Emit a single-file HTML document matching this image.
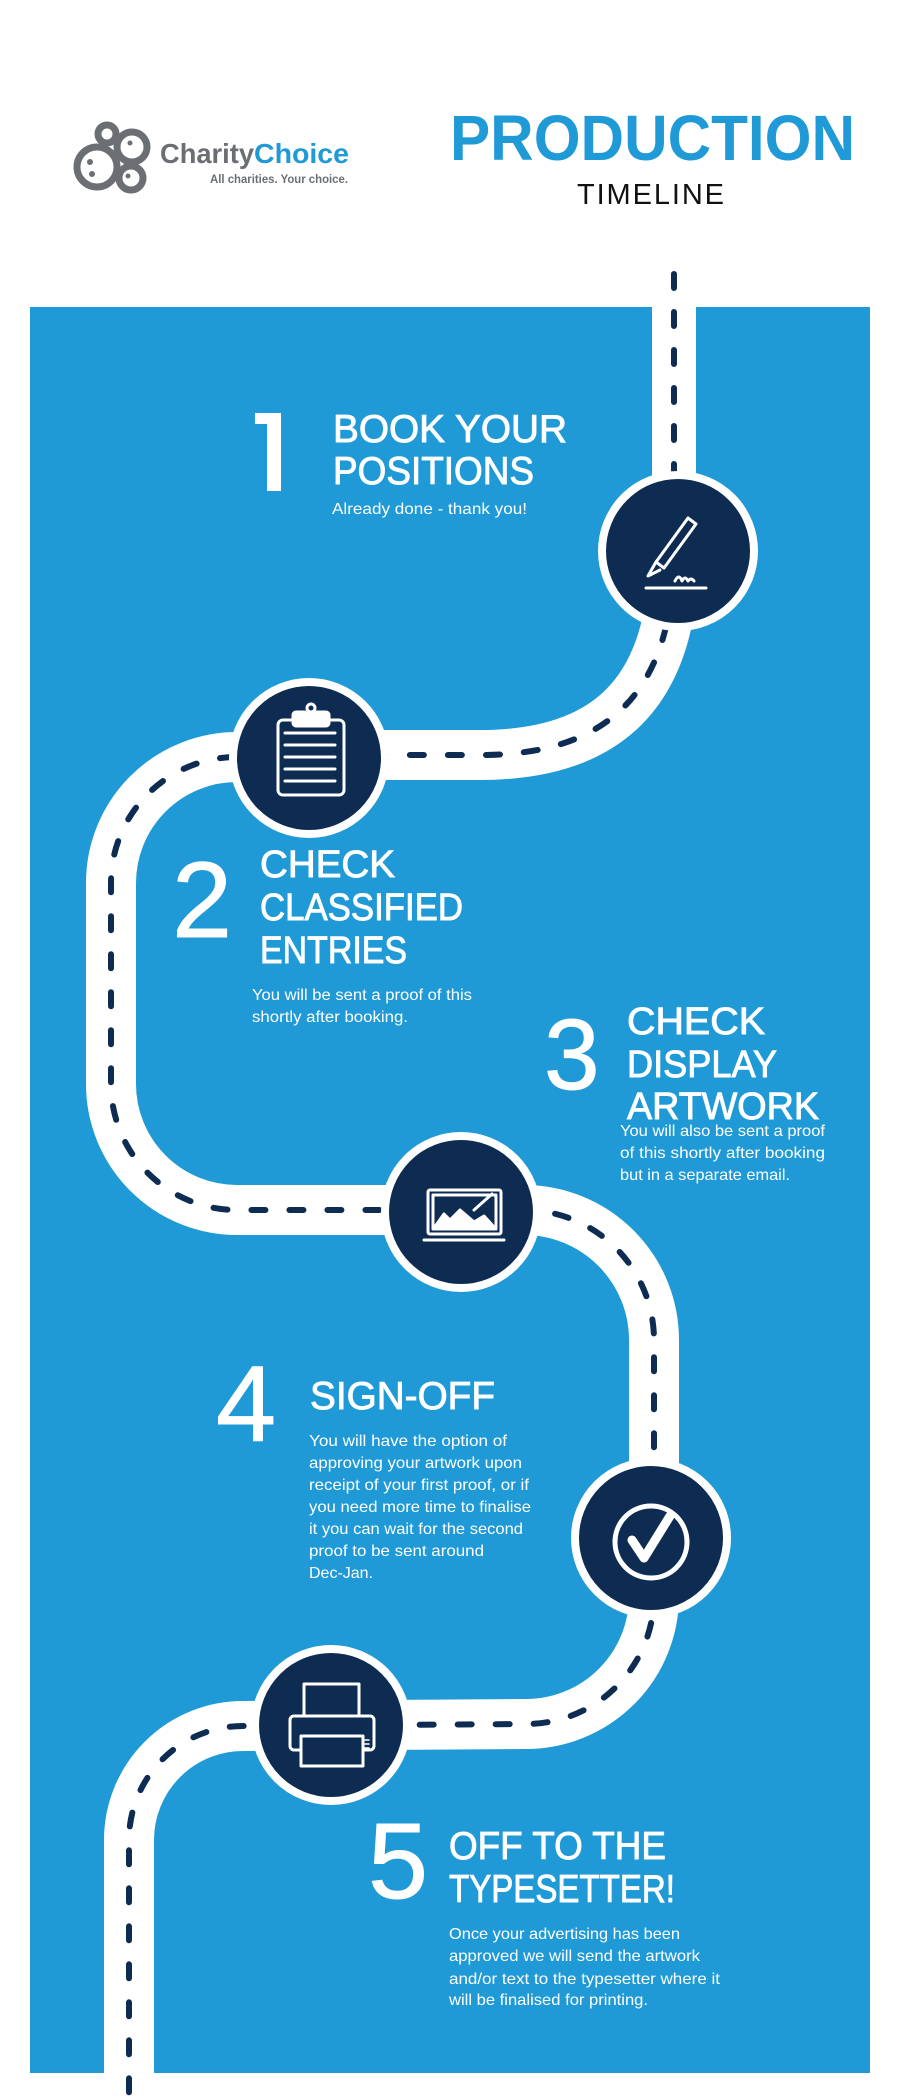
<!DOCTYPE html>
<html><head><meta charset="utf-8"><style>
html,body{margin:0;padding:0;background:#fff;}
svg{display:block;}
text{font-family:"Liberation Sans",sans-serif;}
.h{stroke:#fff;stroke-width:0.9;}
</style></head><body>
<svg width="900" height="2100" viewBox="0 0 900 2100" xmlns="http://www.w3.org/2000/svg">
<rect x="0" y="0" width="900" height="2100" fill="#fff"/>
<g fill="none" stroke="#6b6f74" stroke-width="7">
<circle cx="97" cy="167" r="20" fill="#fff"/>
<circle cx="107" cy="134" r="9" fill="#fff"/>
<circle cx="132" cy="147" r="15" fill="#fff"/>
<circle cx="131" cy="178" r="12" fill="#fff"/>
</g>
<g fill="#6b6f74"><circle cx="90" cy="162" r="3"/><circle cx="92" cy="174" r="3"/><circle cx="130" cy="143" r="2.5"/><circle cx="128" cy="176" r="2.5"/></g>
<text x="160" y="163" font-size="28" font-weight="bold" fill="#6b6f74" textLength="94" lengthAdjust="spacingAndGlyphs">Charity</text>
<text x="254" y="163" font-size="28" font-weight="bold" fill="#1f9ad6" textLength="95" lengthAdjust="spacingAndGlyphs">Choice</text>
<text x="210" y="183" font-size="12" font-weight="bold" fill="#6b6f74" textLength="138" lengthAdjust="spacingAndGlyphs">All charities. Your choice.</text>
<text x="450" y="160" font-size="64" font-weight="bold" fill="#1f9ad6" textLength="405" lengthAdjust="spacingAndGlyphs">PRODUCTION</text>
<text x="577" y="204" font-size="29" fill="#111" textLength="147" lengthAdjust="spacing">TIMELINE</text>

<rect x="30" y="307" width="840" height="1766" fill="#1f9ad6"/>

<g fill="none" stroke="#fff" stroke-linecap="butt">
<path d="M674 268 L674 551" stroke-width="44"/>
<path d="M674 551 C674 700 600 755 480 755 L309 755 L237 757 A126 126 0 0 0 111 883 L111 1084 A126 126 0 0 0 237 1210 L524 1210 A130 130 0 0 1 654 1340 L654 1596 A128 128 0 0 1 526 1724 L243 1726 A114 114 0 0 0 129 1840 L129 2100" stroke-width="50"/>
</g>
<g fill="none" stroke="#0e2c52" stroke-width="6" stroke-linecap="round" stroke-dasharray="14 24">
<path d="M674 274 L674 551"/>
<path d="M674 551 C674 700 600 755 480 755 L309 755 L237 757 A126 126 0 0 0 111 883 L111 1084 A126 126 0 0 0 237 1210 L524 1210 A130 130 0 0 1 654 1340 L654 1596 A128 128 0 0 1 526 1724 L243 1726 A114 114 0 0 0 129 1840 L129 2100"/>
</g>

<g fill="#0e2c52" stroke="#fff" stroke-width="8">
<circle cx="678" cy="551" r="76"/>
<circle cx="309" cy="758" r="76"/>
<circle cx="461" cy="1212" r="76"/>
<circle cx="651" cy="1538" r="76"/>
<circle cx="331" cy="1725" r="76"/>
</g>

<g fill="none" stroke="#fff" stroke-width="3" stroke-linecap="round" stroke-linejoin="round">
<path d="M688 518 l8 6 l-32 44 l-8 -6 z"/>
<path d="M656 562 l-8 14 l12 -6"/>
<path d="M675 581 q4 -8 7 0 q3 -6 6 0 q3 -4 6 0"/>
<path d="M646 588 h60"/>
<rect x="278" y="720" width="66" height="75" rx="5"/>
<rect x="293" y="712" width="36" height="14" rx="3" fill="#fff"/>
<circle cx="311" cy="708" r="4"/>
<path d="M285 733 h50 M285 745 h50 M285 757 h50 M285 769 h50 M285 781 h50"/>
<rect x="428" y="1190" width="73" height="44" rx="2"/>
<rect x="433" y="1195" width="63" height="34"/>
<path d="M424 1240 h80"/>
<path d="M434 1228 l10 -14 l6 6 l10 -10 l14 12 l10 -6 l11 12 z" fill="#fff"/>
<path d="M474 1210 l18 -16"/>
<circle cx="651" cy="1542" r="36" stroke-width="5"/>
<path d="M632 1540 l12 18 l26 -42" stroke-width="9"/>
<rect x="304" y="1684" width="55" height="32"/>
<rect x="290" y="1716" width="84" height="34" rx="4" fill="#0e2c52"/>
<rect x="301" y="1736" width="62" height="30" fill="#0e2c52"/>
<path d="M365 1740 h4 M365 1744 h4 M365 1748 h4" stroke-width="1.5"/>
</g>

<g fill="#fff">
<rect x="267" y="413" width="14" height="78"/>
<rect x="255" y="413" width="14" height="11"/>
<text class="h" x="333" y="442" font-size="39" textLength="234" lengthAdjust="spacingAndGlyphs">BOOK YOUR</text>
<text class="h" x="333" y="484" font-size="39" textLength="201" lengthAdjust="spacingAndGlyphs">POSITIONS</text>
<text x="332" y="514" font-size="16" textLength="195" lengthAdjust="spacingAndGlyphs">Already done - thank you!</text>

<text class="h" x="172" y="937" font-size="108" stroke-width="2">2</text>
<text class="h" x="260" y="877" font-size="38" textLength="135" lengthAdjust="spacingAndGlyphs">CHECK</text>
<text class="h" x="260" y="920" font-size="38" textLength="203" lengthAdjust="spacingAndGlyphs">CLASSIFIED</text>
<text class="h" x="260" y="963" font-size="38" textLength="147" lengthAdjust="spacingAndGlyphs">ENTRIES</text>
<text x="252" y="1000" font-size="15.5" textLength="220" lengthAdjust="spacingAndGlyphs">You will be sent a proof of this</text>
<text x="252" y="1022" font-size="15.5" textLength="156" lengthAdjust="spacingAndGlyphs">shortly after booking.</text>

<text class="h" x="544" y="1089" font-size="100" stroke-width="2">3</text>
<text class="h" x="627" y="1034" font-size="38" textLength="138" lengthAdjust="spacingAndGlyphs">CHECK</text>
<text class="h" x="627" y="1077" font-size="38" textLength="150" lengthAdjust="spacingAndGlyphs">DISPLAY</text>
<text class="h" x="627" y="1119" font-size="38" textLength="192" lengthAdjust="spacingAndGlyphs">ARTWORK</text>
<text x="620" y="1136" font-size="16" textLength="205" lengthAdjust="spacingAndGlyphs">You will also be sent a proof</text>
<text x="620" y="1158" font-size="16" textLength="205" lengthAdjust="spacingAndGlyphs">of this shortly after booking</text>
<text x="620" y="1180" font-size="16" textLength="170" lengthAdjust="spacingAndGlyphs">but in a separate email.</text>

<text class="h" x="216" y="1441" font-size="108" stroke-width="2">4</text>
<text class="h" x="310" y="1409" font-size="39" textLength="185" lengthAdjust="spacingAndGlyphs">SIGN-OFF</text>
<text x="309" y="1446" font-size="16" textLength="198" lengthAdjust="spacingAndGlyphs">You will have the option of</text>
<text x="309" y="1468" font-size="16" textLength="213" lengthAdjust="spacingAndGlyphs">approving your artwork upon</text>
<text x="309" y="1490" font-size="16" textLength="220" lengthAdjust="spacingAndGlyphs">receipt of your first proof, or if</text>
<text x="309" y="1512" font-size="16" textLength="222" lengthAdjust="spacingAndGlyphs">you need more time to finalise</text>
<text x="309" y="1534" font-size="16" textLength="214" lengthAdjust="spacingAndGlyphs">it you can wait for the second</text>
<text x="309" y="1556" font-size="16" textLength="175" lengthAdjust="spacingAndGlyphs">proof to be sent around</text>
<text x="309" y="1578" font-size="16">Dec-Jan.</text>

<text class="h" x="368" y="1898" font-size="108" stroke-width="2">5</text>
<text class="h" x="449" y="1859" font-size="39" textLength="217" lengthAdjust="spacingAndGlyphs">OFF TO THE</text>
<text class="h" x="449" y="1902" font-size="39" textLength="226" lengthAdjust="spacingAndGlyphs">TYPESETTER!</text>
<text x="449" y="1939" font-size="16" textLength="231" lengthAdjust="spacingAndGlyphs">Once your advertising has been</text>
<text x="449" y="1961" font-size="16" textLength="251" lengthAdjust="spacingAndGlyphs">approved we will send the artwork</text>
<text x="449" y="1984" font-size="16" textLength="271" lengthAdjust="spacingAndGlyphs">and/or text to the typesetter where it</text>
<text x="449" y="2005" font-size="16" textLength="199" lengthAdjust="spacingAndGlyphs">will be finalised for printing.</text>
</g>
</svg>
</body></html>
